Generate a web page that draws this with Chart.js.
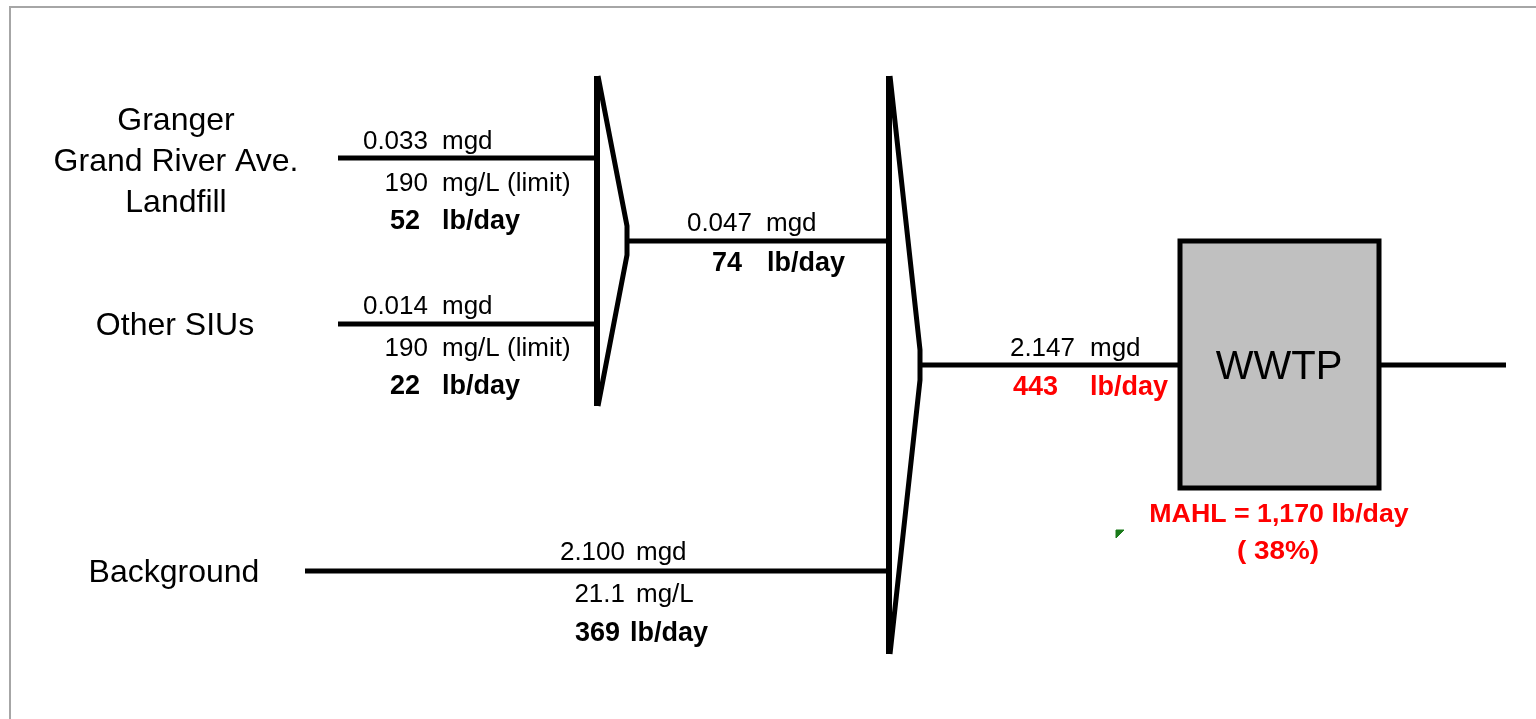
<!DOCTYPE html>
<html>
<head>
<meta charset="utf-8">
<script src="https://cdn.jsdelivr.net/npm/chart.js@4.4.1/dist/chart.umd.min.js"></script>
<style>
  html, body { margin: 0; padding: 0; background: #ffffff; }
  #flowChart { display: block; }
</style>
</head>
<body>
<canvas id="flowChart" width="1536" height="719"></canvas>
<script>
// flow values
var sources = ["Granger\nGrand River Ave.\nLandfill", "Other SIUs", "Background"];
var flowMgd = [0.033, 0.014, 0.047, 2.100, 2.147];
var concMgL = [190, 190, 21.1];
var loadLbDay = [52, 22, 74, 369, 443];
var mahlLbDay = 1170;
var mahlPct = 38;

// pipe segments of the diagram (diagram units, 1 unit = 1 px)
var pipeGranger = [[338, 158], [597, 158]];
var pipeSIU = [[338, 324], [597, 324]];
var pipeMid = [[628, 241], [889, 241]];
var pipeBackground = [[305, 571], [889, 571]];
var pipeInfluent = [[920, 365], [1180, 365]];
var pipeEffluent = [[1379, 365], [1506, 365]];
var mixer1Bar = [[597, 76], [597, 406]];
var mixer1Wedge = [[598, 76], [627, 226], [627, 255], [598, 406]];
var mixer2Bar = [[889, 76], [889, 654]];
var mixer2Wedge = [[890, 76], [920, 350], [920, 380], [890, 654]];
var plantBox = [[1180, 241], [1379, 241], [1379, 488], [1180, 488], [1180, 241], [1379, 241]];
var frameEdge = [[10, 719], [10, 7], [1536, 7]];
var noteMark = [[1116, 530], [1124, 530], [1116, 538], [1116, 530]];

function pts(list) {
    return list.map(p => ({ x: p[0], y: p[1] }));
}

function fmt3(v) { return v.toFixed(3); }

// text pieces: [text, x, y, align, weight, size, color, stretch]
var black = "#000000";
var red = "#ff0000";
var labelFont = "'Liberation Sans', Arial, sans-serif";
var textItems = [];

sources[0].split("\n").forEach((line, i) => {
    textItems.push([line, 176, 121 + i * 41, "center", "normal", 32, black]);
});
textItems.push([sources[1], 175, 326, "center", "normal", 32, black]);
textItems.push([sources[2], 174, 573, "center", "normal", 32, black]);

function pair(value, unit, xv, xu, y, bold, color) {
    var w = bold ? "bold" : "normal";
    var s = bold ? 27 : 26;
    textItems.push([value, xv, y, "right", w, s, color || black]);
    textItems.push([unit, xu, y, "left", w, s, color || black]);
}

// Granger
pair(fmt3(flowMgd[0]), "mgd", 428, 442, 142, false);
pair(String(concMgL[0]), "mg/L (limit)", 428, 442, 184, false);
pair(String(loadLbDay[0]), "lb/day", 420, 442, 222, true);
// Other SIUs
pair(fmt3(flowMgd[1]), "mgd", 428, 442, 307, false);
pair(String(concMgL[1]), "mg/L (limit)", 428, 442, 349, false);
pair(String(loadLbDay[1]), "lb/day", 420, 442, 387, true);
// combined SIUs
pair(fmt3(flowMgd[2]), "mgd", 752, 766, 224, false);
pair(String(loadLbDay[2]), "lb/day", 742, 767, 264, true);
// Background
pair(fmt3(flowMgd[3]), "mgd", 625, 636, 553, false);
pair(concMgL[2].toFixed(1), "mg/L", 625, 636, 595, false);
pair(String(loadLbDay[3]), "lb/day", 620, 630, 634, true);
// WWTP influent
pair(fmt3(flowMgd[4]), "mgd", 1075, 1090, 349, false);
pair(String(loadLbDay[4]), "lb/day", 1058, 1090, 388, true, red);

textItems.push(["WWTP", 1279, 368, "center", "normal", 40, black]);
textItems.push(["MAHL = " + mahlLbDay.toLocaleString("en-US") + " lb/day", 1279, 515, "center", "bold", 25, red, 1.07]);
textItems.push(["( " + mahlPct + "%)", 1278, 552, "center", "bold", 26, red, 1.07]);

const diagramText = {
    id: "diagramText",
    afterDatasetsDraw(chart) {
        const ctx = chart.ctx;
        const xs = chart.scales.x;
        const ys = chart.scales.y;
        ctx.save();
        ctx.textBaseline = "middle";
        textItems.forEach(t => {
            ctx.save();
            ctx.font = t[4] + " " + t[5] + "px " + labelFont;
            ctx.textAlign = t[3];
            ctx.fillStyle = t[6];
            ctx.translate(xs.getPixelForValue(t[1]), ys.getPixelForValue(t[2]));
            ctx.scale(t[7] || 1, 1);
            ctx.fillText(t[0], 0, 0);
            ctx.restore();
        });
        ctx.restore();
    }
};

function pipe(list, width, color) {
    return {
        data: pts(list),
        showLine: true,
        borderColor: color || black,
        borderWidth: width || 5,
        pointRadius: 0,
        fill: false,
        clip: false
    };
}

var plantDs = pipe(plantBox, 5);
plantDs.fill = "shape";
plantDs.backgroundColor = "#c0c0c0";

var noteDs = pipe(noteMark, 1, "#1a7a1a");
noteDs.fill = "shape";
noteDs.backgroundColor = "#1a7a1a";

var flowChart = new Chart(
    document.getElementById("flowChart"),
    {
        type: "scatter",
        data: {
            datasets: [
                pipe(frameEdge, 2, "#a6a6a6"),
                pipe(pipeGranger),
                pipe(pipeSIU),
                pipe(pipeMid),
                pipe(pipeBackground),
                pipe(pipeInfluent),
                pipe(pipeEffluent),
                pipe(mixer1Bar, 6),
                pipe(mixer1Wedge, 5),
                pipe(mixer2Bar, 6),
                pipe(mixer2Wedge, 5),
                plantDs,
                noteDs
            ]
        },
        options: {
            responsive: false,
            animation: false,
            devicePixelRatio: 1,
            layout: { padding: 0 },
            scales: {
                x: { type: "linear", min: 0, max: 1536, display: false },
                y: { type: "linear", min: 0, max: 719, reverse: true, display: false }
            },
            plugins: {
                legend: { display: false },
                tooltip: { enabled: false }
            }
        },
        plugins: [diagramText]
    }
);
</script>
</body>
</html>
